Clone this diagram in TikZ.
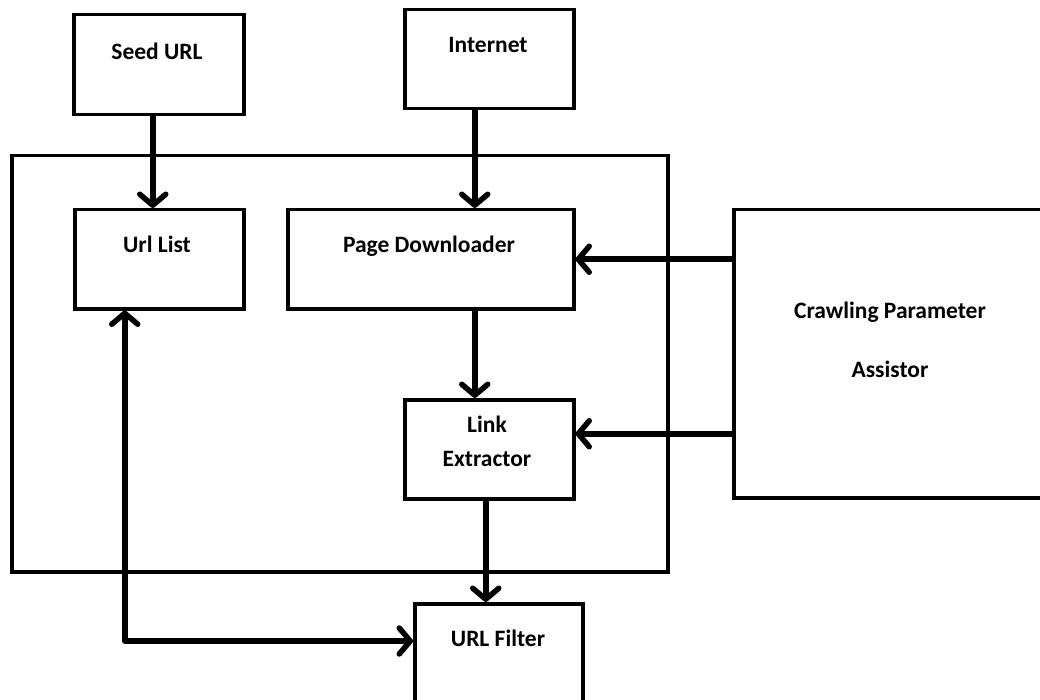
\documentclass[tikz,border=0pt]{standalone}
\usepackage{fontspec}
\setmainfont{Carlito}
\usetikzlibrary{arrows.meta,calc}
\begin{document}
\begin{tikzpicture}[x=1pt,y=-1pt,
  box/.style={draw=black, line width=3.5pt, rectangle, inner sep=0pt, anchor=north west},
  lbl/.style={font=\fontsize{23.5}{34}\selectfont\bfseries, align=center, inner sep=0pt, anchor=base},
  barb/.tip={Straight Barb[length=11pt,width=26pt,line cap=round,line join=round]},
  flow/.style={line width=5.5pt, line cap=round, line join=round, -{barb}},
  both/.style={line width=5.5pt, line cap=round, line join=round, {barb}-{barb}}]
  \clip (0,0) rectangle (1040,700);
  \fill[white] (0,0) rectangle (1040,700);

  % crawler core frame
  \node[box, minimum width=656pt, minimum height=416pt] (core) at (10,154) {};

  % components
  \node[box, minimum width=170pt, minimum height=100pt] (seed) at (72,13) {};
  \node[box, minimum width=169pt, minimum height=99pt]  (inet) at (403,8) {};
  \node[box, minimum width=169pt, minimum height=99pt]  (url)  at (73,208) {};
  \node[box, minimum width=286pt, minimum height=99pt]  (pd)   at (286,208) {};
  \node[box, minimum width=169pt, minimum height=99pt]  (le)   at (403,398) {};
  \node[box, minimum width=168pt, minimum height=110pt] (uf)   at (413,602) {};
  \node[box, minimum width=340pt, minimum height=288pt] (cpa)  at (732,208) {};

  % captions (multi-line captions sit on the baseline of their last line)
  \node[lbl] (seedT) at (157,60)  {Seed URL};
  \node[lbl] (inetT) at (488,53)  {Internet};
  \node[lbl] (urlT)  at (157,253) {Url List};
  \node[lbl] (pdT)   at (429,253) {Page Downloader};
  \node[lbl] (leT)   at (487,466) {Link\\Extractor};
  \node[lbl] (ufT)   at (498,646) {URL Filter};
  \node[lbl] (cpaT)  at (890,377) {Crawling Parameter\\[25pt]Assistor};

  % connector anchors
  \coordinate (sarr) at ([xshift=-6pt]seed.south);
  \coordinate (iarr) at ([xshift=-14.5pt]inet.south);
  \coordinate (larr) at ([xshift=-3.5pt]le.south);
  \coordinate (carr) at ([yshift=15.5pt]le.east);
  \coordinate (uarr) at ([xshift=-34.5pt]url.south);
  \coordinate (farr) at (uf.north west |- 0,641);

  % data flow
  \draw[flow] (sarr) -- (sarr |- url.north);
  \draw[flow] (iarr) -- (iarr |- pd.north);
  \draw[flow] (iarr |- pd.south) -- (iarr |- le.north);
  \draw[flow] (larr) -- (larr |- uf.north);
  \draw[flow] (cpa.west |- pd.east) -- (pd.east);
  \draw[flow] (cpa.west |- carr) -- (carr);
  \draw[both] (uarr) |- (farr);
\end{tikzpicture}
\end{document}
